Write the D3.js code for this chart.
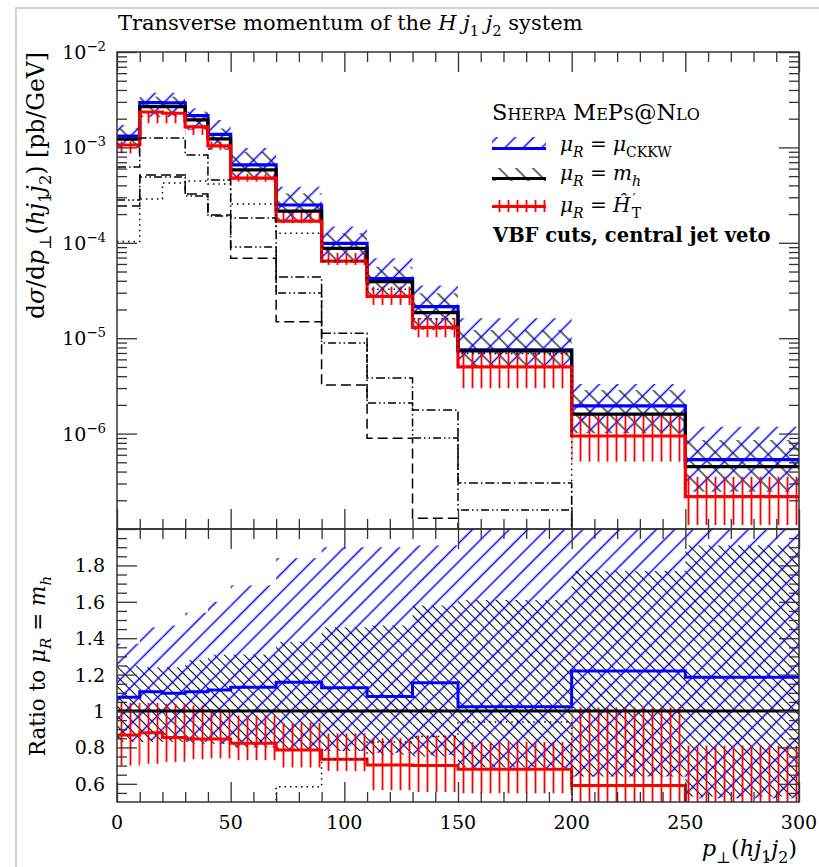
<!DOCTYPE html>
<html>
<head>
<meta charset="utf-8">
<script src="https://cdn.jsdelivr.net/npm/d3@7"></script>
<style>
  body { margin: 0; background: #fff; }
  svg text { font-family: "DejaVu Serif", "Liberation Serif", serif; fill: #000; }
</style>
</head>
<body>
<div id="chart"></div>
<script>
// bin edges in p_T(h j1 j2) [GeV]
var edges = [0, 10, 20, 30, 40, 50, 70, 90, 110, 130, 150, 200, 250, 300];

// central values, dsigma/dpT [pb/GeV]
var xsCkkw = [1.31e-3, 2.95e-3, 2.93e-3, 2.15e-3, 1.37e-3, 6.55e-4, 2.49e-4, 9.87e-5, 4.22e-5, 2.14e-5, 7.53e-6, 1.95e-6, 5.33e-7];
var xsMh   = [1.22e-3, 2.67e-3, 2.67e-3, 1.94e-3, 1.23e-3, 5.8e-4, 2.15e-4, 8.75e-5, 3.91e-5, 1.85e-5, 7.35e-6, 1.60e-6, 4.5e-7];
var xsHt   = [1.06e-3, 2.35e-3, 2.28e-3, 1.64e-3, 1.04e-3, 4.77e-4, 1.69e-4, 6.43e-5, 2.75e-5, 1.30e-5, 5.0e-6, 9.44e-7, 2.18e-7];

// scale variation bands in the upper panel
var ckkwHi = [1.72e-3, 3.74e-3, 3.74e-3, 2.57e-3, 1.94e-3, 9.86e-4, 3.87e-4, 1.48e-4, 6.89e-5, 3.56e-5, 1.62e-5, 3.31e-6, 1.18e-6];
var ckkwLo = [9.93e-4, 2.08e-3, 2.08e-3, 1.52e-3, 9.46e-4, 4.58e-4, 1.69e-4, 6.14e-5, 2.70e-5, 1.22e-5, 5.24e-6, 1.01e-6, 2.46e-7];
var mhHi   = [1.58e-3, 3.40e-3, 3.40e-3, 2.37e-3, 1.58e-3, 8.95e-4, 3.30e-4, 1.26e-4, 5.62e-5, 2.96e-5, 1.22e-5, 2.86e-6, 8.57e-7];
var mhLo   = [9.93e-4, 2.08e-3, 2.08e-3, 1.52e-3, 9.46e-4, 4.58e-4, 1.69e-4, 6.14e-5, 2.70e-5, 1.22e-5, 5.02e-6, 1.01e-6, 2.46e-7];
var htHi   = [1.15e-3, 2.37e-3, 2.37e-3, 1.72e-3, 1.15e-3, 5.26e-4, 2.21e-4, 7.82e-5, 3.47e-5, 1.63e-5, 7.21e-6, 1.63e-6, 3.53e-7];
var htLo   = [8.67e-4, 1.79e-3, 1.79e-3, 1.35e-3, 9.4e-4, 4.37e-4, 1.60e-4, 5.85e-5, 2.23e-5, 1.02e-5, 2.99e-6, 5.08e-7, 1.10e-7];

// other contributions (black, unlabelled); null = below the plot
var dashDot    = [6.23e-4, 1.255e-3, 1.255e-3, 8.32e-4, 4.55e-4, 1.82e-4, 4.38e-5, 1.13e-5, 3.83e-6, 1.77e-6, 3.03e-7, null, null];
var dashDotDot = [2.81e-4, 4.89e-4, 4.89e-4, 3.09e-4, 1.91e-4, 9.04e-5, 2.98e-5, 8.91e-6, 2.09e-6, 8.99e-7, 1.58e-7, null, null];
var dashed     = [2.43e-4, 5.14e-4, 5.14e-4, 3.25e-4, 1.96e-4, 6.88e-5, 1.49e-5, 3.23e-6, 8.93e-7, 1.30e-7, null, null, null];
var dotted     = [1.03e-4, 2.88e-4, 4.23e-4, 4.44e-4, 4.13e-4, 2.55e-4, 1.26e-4, 6.45e-5, 3.25e-5, 1.60e-5, 6.90e-6, null, null];

// ratio panel (to mu_R = m_h)
var ratioCkkw   = [1.075, 1.106, 1.097, 1.106, 1.115, 1.13, 1.158, 1.128, 1.079, 1.155, 1.024, 1.22, 1.185];
var ratioMh     = [1, 1, 1, 1, 1, 1, 1, 1, 1, 1, 1, 1, 1];
var ratioHt     = [0.868, 0.881, 0.855, 0.846, 0.846, 0.823, 0.786, 0.735, 0.703, 0.70, 0.68, 0.59, 0.485];
var ratioDotted = [0.084, 0.108, 0.158, 0.229, 0.336, 0.44, 0.584, 0.734, 0.83, 0.86, 0.94, null, null];
var rCkkwHi = [1.37, 1.46, 1.47, 1.54, 1.60, 1.69, 1.84, 1.90, 1.90, 1.91, 2.1, 2.2, 2.2];
var rCkkwLo = [0.835, 0.84, 0.84, 0.83, 0.82, 0.80, 0.78, 0.78, 0.77, 0.76, 0.685, 0.64, 0.52];
var rMhHi   = [1.25, 1.24, 1.24, 1.28, 1.31, 1.31, 1.38, 1.46, 1.47, 1.58, 1.61, 1.77, 1.91];
var rMhLo   = [0.83, 0.83, 0.83, 0.82, 0.82, 0.80, 0.79, 0.78, 0.76, 0.75, 0.69, 0.64, 0.53];
var rHtHi   = [1.045, 1.045, 1.04, 1.03, 1.01, 0.975, 0.935, 0.877, 0.85, 0.865, 0.83, 1.02, 0.81];
var rHtLo   = [0.70, 0.71, 0.72, 0.735, 0.74, 0.73, 0.69, 0.67, 0.565, 0.555, 0.548, 0.45, 0.40];

// tick values
var xMajor = [0, 50, 100, 150, 200, 250, 300];
var xMinor = [10, 20, 30, 40, 60, 70, 80, 90, 110, 120, 130, 140, 160, 170, 180, 190, 210, 220, 230, 240, 260, 270, 280, 290];
var logMajor = [1e-2, 1e-3, 1e-4, 1e-5, 1e-6, 1e-7];
var logLabels = [-2, -3, -4, -5, -6];
var ratioMajor = [0.6, 0.8, 1.0, 1.2, 1.4, 1.6, 1.8];
var ratioMinor = [0.55, 0.65, 0.7, 0.75, 0.85, 0.9, 0.95, 1.05, 1.1, 1.15, 1.25, 1.3, 1.35, 1.45, 1.5, 1.55, 1.65, 1.7, 1.75, 1.85, 1.9, 1.95];

var BLUE = "#0000ff", RED = "#ff0000", AXIS = "#333";

var svg = d3.select("#chart").append("svg")
    .attr("width", 819)
    .attr("height", 867);

var x = d3.scaleLinear().domain([0, 300]).range([117, 799]);
var yTop = d3.scaleLog().domain([1e-7, 1e-2]).range([529, 52]);
var yBot = d3.scaleLinear().domain([0.5, 2.0]).range([802, 529]);

var defs = svg.append("defs");

function hatch(id, color, spacing, angle, sw) {
    var p = defs.append("pattern")
        .attr("id", id)
        .attr("patternUnits", "userSpaceOnUse")
        .attr("width", spacing)
        .attr("height", spacing)
        .attr("patternTransform", "rotate(" + angle + ")");
    p.append("line")
        .attr("x1", spacing / 2).attr("y1", -1)
        .attr("x2", spacing / 2).attr("y2", spacing + 1)
        .attr("stroke", color)
        .attr("stroke-width", sw);
}
hatch("hBlue", BLUE, 13, 45, 1.5);
hatch("hBlack", "#000", 12, -45, 1.2);
hatch("hBlackR", "#000", 7, -45, 1.0);
hatch("hRed", RED, 9, 0, 1.8);

function clip(id, y0, y1) {
    defs.append("clipPath").attr("id", id)
        .append("rect")
        .attr("x", x(0)).attr("y", y0)
        .attr("width", x(300) - x(0)).attr("height", y1 - y0);
}
clip("clipTop", 52, 529);
clip("clipBot", 529, 802);

var bins = d3.range(edges.length - 1);

function band(g, lo, hi, y, fill) {
    g.append("g").selectAll("rect")
        .data(bins)
        .join("rect")
        .attr("x", i => x(edges[i]))
        .attr("width", i => x(edges[i + 1]) - x(edges[i]))
        .attr("y", i => y(hi[i]))
        .attr("height", i => y(lo[i]) - y(hi[i]))
        .attr("fill", fill);
}

function step(g, vals, y, color, sw, dash) {
    var pts = vals.map((v, i) => [edges[i], v]);
    pts.push([edges[vals.length], vals[vals.length - 1]]);
    var line = d3.line()
        .x(p => x(p[0]))
        .y(p => p[1] == null ? y.range()[0] + 30 : y(p[1]))
        .curve(d3.curveStepAfter);
    g.append("path")
        .attr("d", line(pts))
        .attr("fill", "none")
        .attr("stroke", color)
        .attr("stroke-width", sw)
        .attr("stroke-dasharray", dash || null);
}

// rich text helper: italics, sub- and superscripts
function rich(sel, parts, size) {
    var cur = 0;
    parts.forEach(function(p) {
        var shift = p.sub ? 0.3 * size : (p.sup ? -0.42 * size : 0);
        var ts = sel.append("tspan").text(p.t).attr("dy", shift - cur);
        if (p.dx) ts.attr("dx", p.dx);
        if (p.it) ts.style("font-style", "italic");
        ts.style("font-size", ((p.sub || p.sup) ? size * 0.7 : size) + "px");
        cur = shift;
    });
    sel.style("font-size", size + "px");
}

// page border
svg.append("path")
    .attr("d", "M16,867 V8 H819")
    .attr("fill", "none")
    .attr("stroke", "#d4d4d4")
    .attr("stroke-width", 2);

// ---- upper panel ----
var topG = svg.append("g").attr("clip-path", "url(#clipTop)");
band(topG, mhLo, mhHi, yTop, "url(#hBlack)");
band(topG, ckkwLo, ckkwHi, yTop, "url(#hBlue)");
band(topG, htLo, htHi, yTop, "url(#hRed)");
step(topG, xsCkkw, yTop, BLUE, 3.2);
step(topG, xsMh, yTop, "#000", 3.2);
step(topG, xsHt, yTop, RED, 3.2);
step(topG, dashDot, yTop, "#000", 1.5, "9,3,1.5,3");
step(topG, dashDotDot, yTop, "#000", 1.5, "8,3,1.5,3,1.5,3");
step(topG, dashed, yTop, "#000", 1.5, "10,5");
step(topG, dotted, yTop, "#000", 1.5, "1.5,4");

// ---- ratio panel ----
var botG = svg.append("g").attr("clip-path", "url(#clipBot)");
band(botG, rMhLo, rMhHi, yBot, "url(#hBlackR)");
band(botG, rCkkwLo, rCkkwHi, yBot, "url(#hBlue)");
band(botG, rHtLo, rHtHi, yBot, "url(#hRed)");
step(botG, ratioMh, yBot, "#000", 3);
step(botG, ratioCkkw, yBot, BLUE, 3);
step(botG, ratioHt, yBot, RED, 3);
step(botG, ratioDotted, yBot, "#000", 1.5, "1.5,4");

// ---- frames and ticks ----
[[52, 529], [529, 802]].forEach(function(r) {
    svg.append("rect")
        .attr("x", x(0)).attr("y", r[0])
        .attr("width", x(300) - x(0)).attr("height", r[1] - r[0])
        .attr("fill", "none")
        .attr("stroke", AXIS)
        .attr("stroke-width", 1.5);
});

function ticks(axis, tx, ty) {
    svg.append("g")
        .attr("transform", "translate(" + tx + "," + ty + ")")
        .call(axis.tickFormat(""))
        .call(g => g.select(".domain").remove())
        .selectAll("line")
        .attr("stroke", AXIS)
        .attr("stroke-width", 1.3);
}
var logMinor = [];
[-7, -6, -5, -4, -3].forEach(e => d3.range(2, 10).forEach(k => logMinor.push(k * Math.pow(10, e))));

[[52, "top"], [529, "bottom"], [529, "top"], [802, "bottom"]].forEach(function(t) {
    var mk = t[1] === "top" ? d3.axisTop : d3.axisBottom;
    ticks(mk(x).tickValues(xMajor).tickSize(-20), 0, t[0]);
    ticks(mk(x).tickValues(xMinor).tickSize(-10), 0, t[0]);
});
ticks(d3.axisLeft(yTop).tickValues(logMajor).tickSize(-20), x(0), 0);
ticks(d3.axisLeft(yTop).tickValues(logMinor).tickSize(-10), x(0), 0);
ticks(d3.axisRight(yTop).tickValues(logMajor).tickSize(-20), x(300), 0);
ticks(d3.axisRight(yTop).tickValues(logMinor).tickSize(-10), x(300), 0);
ticks(d3.axisLeft(yBot).tickValues(ratioMajor).tickSize(-20), x(0), 0);
ticks(d3.axisLeft(yBot).tickValues(ratioMinor).tickSize(-10), x(0), 0);
ticks(d3.axisRight(yBot).tickValues(ratioMajor).tickSize(-20), x(300), 0);
ticks(d3.axisRight(yBot).tickValues(ratioMinor).tickSize(-10), x(300), 0);

// tick labels
var TICK = 19;
svg.append("g").selectAll("text")
    .data(xMajor)
    .join("text")
    .attr("x", d => x(d))
    .attr("y", 829)
    .attr("text-anchor", "middle")
    .style("font-size", TICK + "px")
    .text(d => d);

svg.append("g").selectAll("text")
    .data(ratioMajor)
    .join("text")
    .attr("x", 105)
    .attr("y", d => yBot(d) + 7)
    .attr("text-anchor", "end")
    .style("font-size", TICK + "px")
    .text(d => d === 1 ? "1" : d3.format(".1f")(d));

logLabels.forEach(function(e) {
    var t = svg.append("text")
        .attr("x", 106)
        .attr("y", yTop(Math.pow(10, e)) + 7)
        .attr("text-anchor", "end");
    rich(t, [{ t: "10" }, { t: "\u2212" + (-e), sup: true }], TICK);
});

// ---- titles and axis labels ----
rich(svg.append("text").attr("x", 118).attr("y", 30),
    [{ t: "Transverse momentum of the " }, { t: "H", it: true }, { t: " " },
     { t: "j", it: true }, { t: "1", sub: true }, { t: " " },
     { t: "j", it: true }, { t: "2", sub: true }, { t: " system" }], 21);

rich(svg.append("text").attr("text-anchor", "end").attr("transform", "translate(44,52) rotate(-90)"),
    [{ t: "d" }, { t: "\u03c3", it: true }, { t: "/d" }, { t: "p", it: true }, { t: "\u22a5", sub: true },
     { t: "(" }, { t: "h", it: true }, { t: "j", it: true }, { t: "1", sub: true },
     { t: "j", it: true }, { t: "2", sub: true }, { t: ") [pb/GeV]" }], 23.5);

rich(svg.append("text").attr("text-anchor", "middle").attr("transform", "translate(45,666) rotate(-90)"),
    [{ t: "Ratio to " }, { t: "\u03bc", it: true }, { t: "R", it: true, sub: true },
     { t: " = " }, { t: "m", it: true }, { t: "h", it: true, sub: true }], 21.5);

rich(svg.append("text").attr("x", 797).attr("y", 856).attr("text-anchor", "end"),
    [{ t: "p", it: true }, { t: "\u22a5", sub: true }, { t: "(" }, { t: "h", it: true },
     { t: "j", it: true }, { t: "1", sub: true }, { t: "j", it: true }, { t: "2", sub: true }, { t: ")" }], 22.5);

// ---- legend ----
svg.append("text")
    .attr("x", 492).attr("y", 120)
    .style("font-size", "22.5px")
    .style("font-variant", "small-caps")
    .text("Sherpa MePs@Nlo");

var legend = [
    { fill: "url(#hBlue)", color: BLUE, y0: 137, y1: 150, ly: 148.5, ty: 151,
      parts: [{ t: "\u03bc", it: true }, { t: "R", it: true, sub: true }, { t: " = " }, { t: "\u03bc", it: true }, { t: "CKKW", sub: true }] },
    { fill: "url(#hBlack)", color: "#000", y0: 168, y1: 181, ly: 178.5, ty: 180,
      parts: [{ t: "\u03bc", it: true }, { t: "R", it: true, sub: true }, { t: " = " }, { t: "m", it: true }, { t: "h", it: true, sub: true }] },
    { fill: "url(#hRed)", color: RED, y0: 200, y1: 212, ly: 206.5, ty: 212,
      parts: [{ t: "\u03bc", it: true }, { t: "R", it: true, sub: true }, { t: " = " }, { t: "\u0124", it: true }, { t: "\u2032", sup: true, dx: 2 }, { t: "T", sub: true, dx: -4 }] }
];
legend.forEach(function(d) {
    svg.append("rect")
        .attr("x", 492).attr("y", d.y0)
        .attr("width", 54).attr("height", d.y1 - d.y0)
        .attr("fill", d.fill);
    svg.append("line")
        .attr("x1", 492).attr("x2", 546)
        .attr("y1", d.ly).attr("y2", d.ly)
        .attr("stroke", d.color)
        .attr("stroke-width", 3);
    rich(svg.append("text").attr("x", 560).attr("y", d.ty), d.parts, 20);
});

svg.append("text")
    .attr("x", 493).attr("y", 242)
    .style("font-size", "19.5px")
    .style("font-weight", "bold")
    .text("VBF cuts, central jet veto");
</script>
</body>
</html>
